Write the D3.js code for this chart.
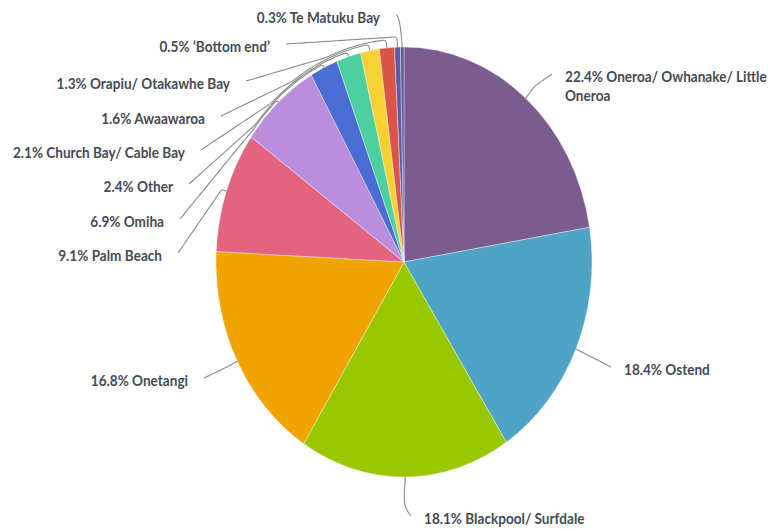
<!DOCTYPE html>
<html>
<head>
<meta charset="utf-8">
<script src="https://cdn.jsdelivr.net/npm/d3@7/dist/d3.min.js"></script>
<style>
  html, body { margin: 0; padding: 0; background: #fff; }
  svg text { font-family: Lato, "Open Sans", sans-serif; font-weight: 700; font-size: 13.6px; fill: #464b55; }
</style>
</head>
<body>
<svg id="chart" width="771" height="529"></svg>
<script>
// Where residents live, share of respondents (%)
const categories = [
  "Oneroa/ Owhanake/ Little Oneroa",
  "Ostend",
  "Blackpool/ Surfdale",
  "Onetangi",
  "Palm Beach",
  "Omiha",
  "Other",
  "Church Bay/ Cable Bay",
  "Awaawaroa",
  "Orapiu/ Otakawhe Bay",
  "‘Bottom end’",
  "Te Matuku Bay"
];
const shares = [22.4, 18.4, 18.1, 16.8, 9.1, 6.9, 2.4, 2.1, 1.6, 1.3, 0.5, 0.3];
const colors = [
  "#7a5c8e", "#4fa3c4", "#99c800", "#efa400", "#e4637f", "#ba8edc",
  "#4a6ed4", "#4ecf9f", "#f7d232", "#d95549", "#5d5aa8", "#6a5696"
];

// Label placement: text anchor point, alignment, leader elbow distance, optional bend point
const labelLayout = [
  { x: 565, y: 77,  anchor: "start", gap: 14, lines: ["22.4% Oneroa/ Owhanake/ Little", "Oneroa"] },
  { x: 624, y: 370, anchor: "start", gap: 10 },
  { x: 424, y: 519, anchor: "start", gap: 4, via: [403, 506] },
  { x: 188, y: 381, anchor: "end",   gap: 8 },
  { x: 162, y: 256, anchor: "end",   gap: 5 },
  { x: 164, y: 222, anchor: "end",   gap: 2 },
  { x: 173, y: 187, anchor: "end",   gap: 3 },
  { x: 185, y: 153, anchor: "end",   gap: 4 },
  { x: 205, y: 119, anchor: "end",   gap: 5.5 },
  { x: 230, y: 84,  anchor: "end",   gap: 7 },
  { x: 270, y: 47,  anchor: "end",   gap: 9 },
  { x: 380, y: 18,  anchor: "end",   gap: 4, via: [399, 16] }
];

const cx = 404, cy = 262, rx = 188, ry = 215;
const sy = ry / rx;

const svg = d3.select("#chart");

const pie = d3.pie().sort(null).value(d => d)(shares);
const arc = d3.arc().innerRadius(0).outerRadius(rx);

// Pie drawn on a circle, then stretched vertically into an ellipse
const pieG = svg.append("g").attr("transform", `translate(${cx},${cy}) scale(1,${sy})`);
pieG.selectAll("path.slice")
  .data(pie)
  .join("path")
  .attr("class", "slice")
  .attr("d", arc)
  .attr("fill", (d, i) => colors[i])
  .attr("stroke", "#ffffff")
  .attr("stroke-opacity", 0.6)
  .attr("stroke-width", 0.6);

// Point on the ellipse at angle a (clockwise from 12 o'clock), radius factor k
const polar = (a, k) => [cx + rx * k * Math.sin(a), cy - ry * k * Math.cos(a)];

// Push a point outward so it never falls inside the ellipse of factor k
function hug(p, k) {
  const dx = (p[0] - cx) / rx, dy = (p[1] - cy) / ry;
  const rho = Math.sqrt(dx * dx + dy * dy);
  if (rho >= k) return p;
  return [cx + (p[0] - cx) * k / rho, cy + (p[1] - cy) * k / rho];
}

const leader = d3.line().curve(d3.curveBasis);
const linesG = svg.append("g");
const textG = svg.append("g");

pie.forEach((d, i) => {
  const L = labelLayout[i];
  const mid = (d.startAngle + d.endAngle) / 2;
  const P = polar(mid, 1.0);
  const k = (rx + L.gap) / rx;
  const E = polar(mid, k);
  const start = L.anchor === "end" ? [L.x + 16, L.y - 3] : [L.x - 13, L.y - 3];

  let pts = [];
  if (L.via) {
    pts = [start, L.via, E, P];
  } else {
    const n = 40;
    for (let t = 0; t <= n; t++) {
      const q = [start[0] + (E[0] - start[0]) * t / n, start[1] + (E[1] - start[1]) * t / n];
      pts.push(t === 0 ? q : hug(q, k));
    }
    pts.push(P);
  }
  linesG.append("path")
    .attr("d", leader(pts))
    .attr("fill", "none")
    .attr("stroke", "#8a8a8a")
    .attr("stroke-width", 1.1);

  const lines = L.lines || [`${shares[i]}% ${categories[i]}`];
  const t = textG.append("text")
    .attr("transform", `translate(${L.x},${L.y}) scale(1,1.12)`)
    .attr("text-anchor", L.anchor);
  lines.forEach((s, j) => {
    t.append("tspan").attr("x", 0).attr("dy", j === 0 ? "0.36em" : "1.2em").text(s);
  });
});
</script>
</body>
</html>
